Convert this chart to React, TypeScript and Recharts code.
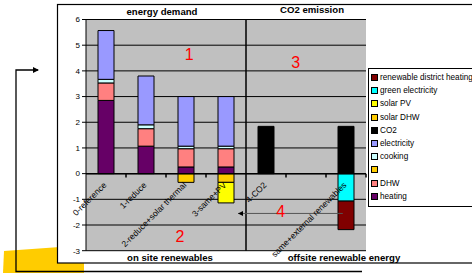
import React from "react"
import {
  BarChart,
  Bar,
  XAxis,
  YAxis,
  CartesianGrid,
  Legend,
  ReferenceLine,
  ReferenceDot,
} from "recharts"

// scenario categories (index 5 is an empty slot)
const categories = [
  "0-reference",
  "1-reduce",
  "2-reduce+solar thermal",
  "3-same+PV",
  "4-CO2",
  "",
  "same+external renewables",
]

const heating = [2.85, 1.07, 0.26, 0.26, 0, 0, 0]
const dhw = [0.68, 0.68, 0.71, 0.71, 0, 0, 0]
const blank = [0, 0, 0, 0, 0, 0, 0]
const cooking = [0.14, 0.15, 0.1, 0.1, 0, 0, 0]
const electricity = [1.9, 1.9, 1.93, 1.93, 0, 0, 0]
const co2 = [0, 0, 0, 0, 1.84, 0, 1.84]
const solarDhw = [0, 0, -0.34, -0.34, 0, 0, 0]
const solarPv = [0, 0, 0, -0.8, 0, 0, 0]
const greenElectricity = [0, 0, 0, 0, 0, 0, -1.07]
const districtHeating = [0, 0, 0, 0, 0, 0, -1.11]

const yTicks = [-3, -2, -1, 0, 1, 2, 3, 4, 5, 6]
const boundaries = [1, 2, 3, 5, 6, 7]

const series = [
  { key: "heating", name: "heating", color: "#660066", values: heating },
  { key: "dhw", name: "DHW", color: "#FF8080", values: dhw },
  { key: "blank", name: "", color: "#FFCC00", values: blank },
  { key: "cooking", name: "cooking", color: "#CCFFFF", values: cooking },
  { key: "electricity", name: "electricity", color: "#9999FF", values: electricity },
  { key: "co2", name: "CO2", color: "#000000", values: co2 },
  { key: "solarDhw", name: "solar DHW", color: "#FFCC00", values: solarDhw },
  { key: "solarPv", name: "solar PV", color: "#FFFF00", values: solarPv },
  { key: "green", name: "green electricity", color: "#00FFFF", values: greenElectricity },
  { key: "district", name: "renewable district heating", color: "#800000", values: districtHeating },
]

// red annotation numbers, in (slot, value) units
const notes = [
  { text: "1", x: 2.58, y: 4.66 },
  { text: "2", x: 2.35, y: -2.43 },
  { text: "3", x: 5.24, y: 4.32 },
  { text: "4", x: 4.87, y: -1.48 },
]

const data = categories.map((cat, i) => {
  const row: Record<string, any> = { cat, pos: i + 0.5 }
  series.forEach((s) => (row[s.key] = s.values[i]))
  return row
})

const W = 472
const H = 273
const TOP = 19.5
const BOTTOM = 22.3
const PLOT_H = H - TOP - BOTTOM
const ZERO_Y = TOP + (PLOT_H * 6) / 9
const FONT = "'Liberation Sans', Arial, sans-serif"

function CatTick(props: any) {
  const { x, payload } = props
  const tx = x + 1
  const ty = ZERO_Y + 12
  return (
    <text
      x={tx}
      y={ty}
      transform={`rotate(-45, ${tx}, ${ty})`}
      textAnchor="end"
      fontSize={8.5}
      fontFamily={FONT}
      fill="#000"
    >
      {payload.value}
    </text>
  )
}

function ArrowShape(p: any) {
  return (
    <g>
      <line x1={p.x1} y1={p.y1} x2={p.x2} y2={p.y2} stroke="#555" strokeWidth={1} />
      <path d={`M${p.x2},${p.y2} l5,-2.5 l0,5 z`} fill="#000" />
    </g>
  )
}

function LegendBox() {
  return (
    <div
      style={{
        border: "1px solid #000",
        background: "#fff",
        padding: "2px 0 3px 2px",
        fontFamily: FONT,
        fontSize: 8.2,
        color: "#000",
        width: 110,
        boxSizing: "border-box",
      }}
    >
      {[...series].reverse().map((s) => (
        <div key={s.key} style={{ height: 13.2, display: "flex", alignItems: "center", whiteSpace: "nowrap" }}>
          <span
            style={{
              display: "inline-block",
              width: 5,
              height: 5,
              background: s.color,
              border: "1px solid #000",
              marginRight: 2,
            }}
          />
          {s.name}
        </div>
      ))}
    </div>
  )
}

const titleStyle: React.CSSProperties = {
  position: "absolute",
  fontFamily: FONT,
  fontSize: 9.6,
  fontWeight: "bold",
  color: "#000",
  whiteSpace: "nowrap",
  transform: "translateX(-50%)",
  lineHeight: "10px",
}

export default function App() {
  return (
    <div style={{ position: "absolute", left: 0, top: 0, width: W, height: H, overflow: "hidden", background: "#fff" }}>
      <svg width={W} height={H} style={{ position: "absolute", left: 0, top: 0 }}>
        <polygon points="4,251 60,247 84,247 84,273 3,273" fill="#FFCC00" />
        <rect x={57.5} y={4.5} width={430} height={258.5} fill="#fff" stroke="#000" strokeWidth={1.2} />
      </svg>
      <div style={{ position: "absolute", left: 0, top: 0 }}>
        <BarChart
          width={W}
          height={H}
          data={data}
          stackOffset="sign"
          margin={{ top: TOP, right: 106, bottom: BOTTOM - 1, left: 56 }}
          barSize={16}
        >
          <CartesianGrid vertical={false} stroke="#000" fill="#C0C0C0" fillOpacity={1} />
          <XAxis
            dataKey="cat"
            interval={0}
            height={1}
            axisLine={false}
            tickLine={false}
            tick={<CatTick />}
          />
          <XAxis xAxisId="num" dataKey="pos" type="number" domain={[0, 7]} allowDataOverflow hide />
          <YAxis
            domain={[-3, 6]}
            ticks={yTicks}
            width={30}
            interval={0}
            tickSize={4}
            stroke="#000"
            tick={{ fontSize: 8, fill: "#000", fontFamily: FONT }}
          />
          {series.map((s) => (
            <Bar
              key={s.key}
              dataKey={s.key}
              name={s.name}
              stackId="a"
              fill={s.color}
              stroke="#000"
              strokeWidth={1}
              isAnimationActive={false}
            />
          ))}
          <ReferenceLine y={0} stroke="#000" strokeWidth={1.5} />
          {boundaries.map((b) => (
            <ReferenceLine
              key={b}
              xAxisId="num"
              segment={[
                { x: b, y: 0 },
                { x: b, y: -0.15 },
              ]}
              stroke="#000"
              strokeWidth={1.5}
            />
          ))}
          <ReferenceLine xAxisId="num" x={4} stroke="#000" strokeWidth={1.5} />
          <ReferenceLine
            xAxisId="num"
            segment={[
              { x: 6.42, y: -1.55 },
              { x: 3.8, y: -1.55 },
            ]}
            shape={<ArrowShape />}
          />
          {notes.map((n) => (
            <ReferenceDot
              key={n.text}
              xAxisId="num"
              x={n.x}
              y={n.y}
              r={1}
              fill="none"
              stroke="none"
              label={{ value: n.text, position: "center", fill: "#FF0000", fontSize: 16, fontFamily: FONT }}
            />
          ))}
          <Legend
            layout="vertical"
            align="center"
            verticalAlign="middle"
            content={() => <LegendBox />}
            wrapperStyle={{ left: 368, top: 68, width: 110 }}
          />
        </BarChart>
      </div>
      <div style={{ ...titleStyle, left: 162, top: 7 }}>energy demand</div>
      <div style={{ ...titleStyle, left: 312, top: 5 }}>CO2 emission</div>
      <div style={{ ...titleStyle, left: 170, top: 253 }}>on site renewables</div>
      <div style={{ ...titleStyle, left: 344, top: 253 }}>offsite renewable energy</div>
      <svg width={W} height={H} style={{ position: "absolute", left: 0, top: 0, pointerEvents: "none" }}>
        <polyline points="38,70 16,70 16,271.5 362,271.5" fill="none" stroke="#000" strokeWidth={1.3} />
        <path d="M39,70 l-6,-3 l0,6 z" fill="#000" />
      </svg>
    </div>
  )
}
